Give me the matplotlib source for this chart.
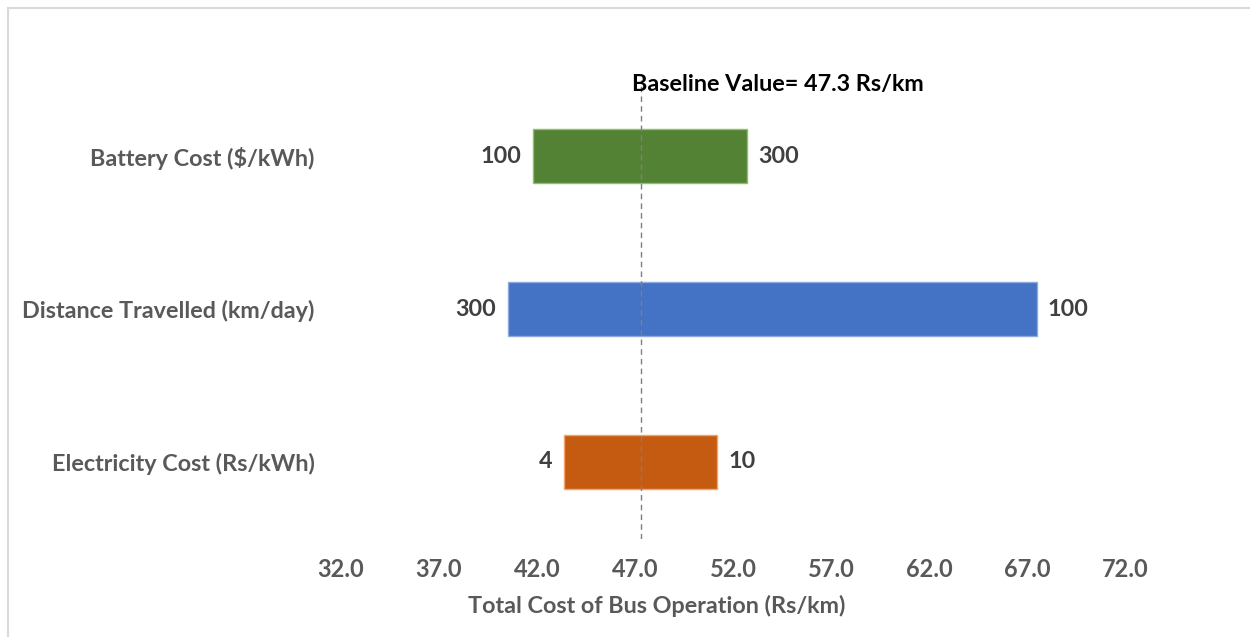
import matplotlib
matplotlib.use("Agg")
import matplotlib.pyplot as plt
from matplotlib.patches import Rectangle

categories = ["Battery Cost ($/kWh)", "Distance Travelled (km/day)", "Electricity Cost (Rs/kWh)"]
low_values = [41.8, 40.5, 43.4]
high_values = [52.7, 67.5, 51.2]
low_labels = ["100", "300", "4"]
high_labels = ["300", "100", "10"]
colors = ["#548235", "#4472C4", "#C55A11"]
edge_colors = ["#8fbf70", "#8eaadc", "#f4a46a"]
baseline = 47.3
xticks = [32.0, 37.0, 42.0, 47.0, 52.0, 57.0, 62.0, 67.0, 72.0]

FONT = "Lato"
GRAY = "#595959"
DARK = "#404040"
FS = 16.8

fig = plt.figure(figsize=(12.5, 6.37), dpi=100)
ax = fig.add_axes([341/1250, (637-538.5)/637, 784/1250, 459/637])

ypos = list(range(len(categories)))
for y, lo, hi, c, ec, ll, hl in zip(ypos, low_values, high_values, colors, edge_colors, low_labels, high_labels):
    ax.barh(y, hi - lo, left=lo, height=0.355, color=c, edgecolor=ec, linewidth=1.0, zorder=2)
    ax.annotate(ll, (lo, y), xytext=(-8.5, 0), textcoords="offset points", ha="right", va="center",
                fontsize=FS, fontweight="bold", color=DARK, family=FONT)
    ax.annotate(hl, (hi, y), xytext=(8, 0), textcoords="offset points", ha="left", va="center",
                fontsize=FS, fontweight="bold", color=DARK, family=FONT)

ax.axvline(baseline, color="#7f7f7f", linestyle=(0, (4, 3)), linewidth=1.0, zorder=3)
ax.text(baseline - 0.45, -0.47, "Baseline Value= 47.3 Rs/km", ha="left", va="center",
        fontsize=FS, fontweight="bold", color="black", family=FONT, zorder=4)

ax.set_xlim(32, 72)
ax.set_ylim(2.5, -0.5)
ax.set_xticks(xticks)
ax.set_xticklabels([f"{t:.1f}" for t in xticks], fontsize=17, fontweight="bold", color=GRAY, family=FONT)
ax.set_yticks(ypos)
ax.set_yticklabels(categories, fontsize=FS, fontweight="bold", color=GRAY, family=FONT)
ax.tick_params(axis="both", length=0)
ax.tick_params(axis="y", pad=19)
ax.tick_params(axis="x", pad=14)
for s in ax.spines.values():
    s.set_visible(False)
ax.set_xlabel("Total Cost of Bus Operation (Rs/km)", fontsize=FS, fontweight="bold", color=GRAY,
              family=FONT)
ax.xaxis.label.set_va("center")
ax.xaxis.set_label_coords((657 - 341) / 784, -(606 - 538.5) / 459)

fig.add_artist(Rectangle((8/1250, -0.1), 1.2, 1 - 8/637 + 0.1, transform=fig.transFigure,
                         fill=False, edgecolor="#d9d9d9", linewidth=1.5))

fig.savefig("out.png", dpi=100)
